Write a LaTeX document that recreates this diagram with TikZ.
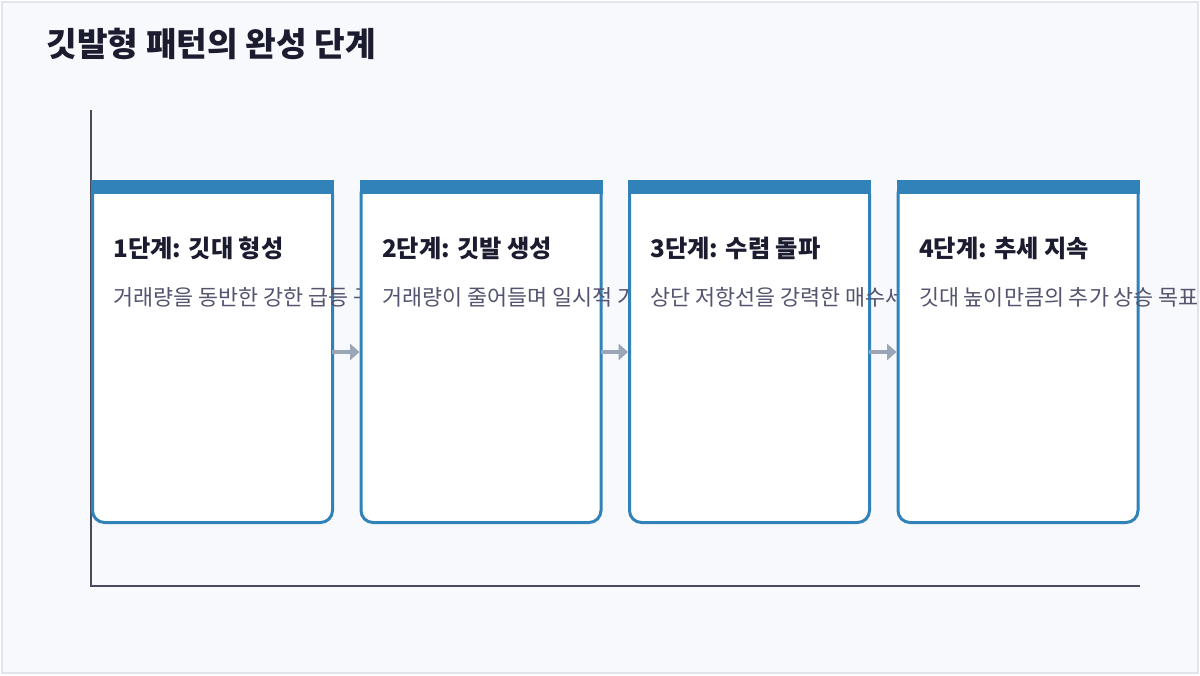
\documentclass[tikz,border=0pt]{standalone}
\usepackage{fontspec}
\setmainfont{Noto Sans CJK KR}
\usetikzlibrary{arrows.meta}

\definecolor{pagebg}{HTML}{F7F9FC}
\definecolor{pageline}{HTML}{E1E4EB}
\definecolor{stageblue}{HTML}{3282BA}
\definecolor{axisgray}{HTML}{4A4A5E}
\definecolor{flowgray}{HTML}{9AA5B8}
\definecolor{titleink}{HTML}{1C1C30}
\definecolor{descink}{HTML}{545470}

% font sizes fitted to the measured text widths
\newlength\probewd
\newcommand\fitfont[3]{% #1 macro, #2 target width (pt), #3 sample text
  \settowidth\probewd{\fontsize{10pt}{12pt}\selectfont #3}%
  \pgfmathsetmacro#1{10*#2/\probewd}}
\AtBeginDocument{%
  \fitfont{\titlesize}{247}{\bfseries 깃발형 패턴의 완성 단계}%
  \fitfont{\headsize}{127.5}{\bfseries 1단계: 깃대 형성}%
  \fitfont{\descsize}{176.25}{거래량을 동반한 강한 급등}}

\tikzset{every picture/.style={line width=0.75pt}}
\tikzset{
  stage/.style={draw=stageblue, fill=white, line width=2.25pt, rounded corners=9pt,
    minimum width=180pt, minimum height=255.75pt, inner sep=0pt},
  stagehead/.style={font=\fontsize{\headsize pt}{22pt}\selectfont\bfseries, text=titleink, anchor=west, inner sep=0pt},
  stagedesc/.style={font=\fontsize{\descsize pt}{19pt}\selectfont, text=descink, anchor=west, inner sep=0pt},
  flowarrow/.style={draw=flowgray, line width=3pt, -{Triangle[length=7pt,width=12pt]}, shorten <=-1.5pt},
}

\begin{document}
\begin{tikzpicture}[x=0.75pt,y=0.75pt,yscale=-1,xscale=1]
%set diagram size 1200 x 675
\useasboundingbox (0,0) rectangle (1200,675);
\clip (0,0) rectangle (1200,675);

%Background
\draw [draw=pageline, fill=pagebg, line width=1.5pt] (2,2) rectangle (1198,673);

% Title Node
\node (title) [anchor=west, inner sep=0pt, text=titleink, font=\fontsize{\titlesize pt}{30pt}\selectfont\bfseries] at (46,44) {깃발형 패턴의 완성 단계};

%Axes
\draw [draw=axisgray, line width=1.5pt] (91,110) -- (91,586) -- (1140,586) ;

%Stage 1
\node (s1) [stage] at (212.5,352) {};
\fill [stageblue] (s1.north west) rectangle ([shift={(0,14)}]s1.north east) ;
\node (h1) [stagehead] at (113,248) {1단계: 깃대 형성};
\node (d1) [stagedesc] at (113,297) {거래량을 동반한 강한 급등 구간};

%Stage 2
\node (s2) [stage] at (481,352) {};
\fill [stageblue] (s2.north west) rectangle ([shift={(0,14)}]s2.north east) ;
\node (h2) [stagehead] at (381.5,248) {2단계: 깃발 생성};
\node (d2) [stagedesc] at (381.5,297) {거래량이 줄어들며 일시적 가격 조정};

%Stage 3
\node (s3) [stage] at (749.5,352) {};
\fill [stageblue] (s3.north west) rectangle ([shift={(0,14)}]s3.north east) ;
\node (h3) [stagehead] at (650,248) {3단계: 수렴 돌파};
\node (d3) [stagedesc] at (650,297) {상단 저항선을 강력한 매수세로 돌파};

%Stage 4
\node (s4) [stage] at (1018,352) {};
\fill [stageblue] (s4.north west) rectangle ([shift={(0,14)}]s4.north east) ;
\node (h4) [stagehead] at (918.5,248) {4단계: 추세 지속};
\node (d4) [stagedesc] at (918.5,297) {깃대 높이만큼의 추가 상승 목표};

%Straight Lines
\draw [flowarrow] (s1.east) -- (s2.west) ;
\draw [flowarrow] (s2.east) -- (s3.west) ;
\draw [flowarrow] (s3.east) -- (s4.west) ;

\end{tikzpicture}
\end{document}
